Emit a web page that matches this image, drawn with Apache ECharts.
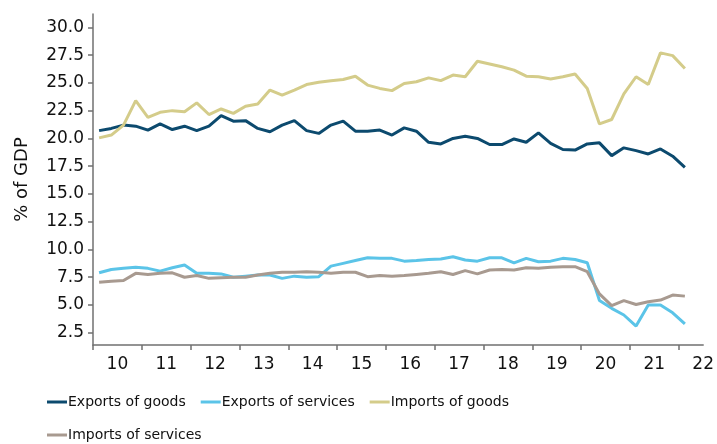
<!DOCTYPE html>
<html>
<head>
<meta charset="utf-8">
<script src="https://cdn.jsdelivr.net/npm/echarts@6/dist/echarts.min.js"></script>
<style>
  html, body { margin: 0; padding: 0; background: #fff; }
  #main { width: 717px; height: 444px; }
</style>
</head>
<body>
<div id="main"></div>
<script>
// quarterly, 2010Q1 .. 2022Q1
var startYear = 2010;
var years = [2010, 2011, 2012, 2013, 2014, 2015, 2016, 2017, 2018, 2019, 2020, 2021, 2022];
var yTicks = [2.5, 5, 7.5, 10, 12.5, 15, 17.5, 20, 22.5, 25, 27.5, 30];

var exportsGoods = [20.7, 20.9, 21.2, 21.1, 20.75, 21.3, 20.8, 21.1, 20.7, 21.1, 22.05, 21.55,
  21.6, 20.9, 20.6, 21.2, 21.6, 20.7, 20.45, 21.2, 21.55, 20.65, 20.65, 20.75,
  20.3, 20.95, 20.65, 19.65, 19.5, 20.0, 20.2, 20.0, 19.45, 19.45, 19.95, 19.65,
  20.5, 19.55, 19.0, 18.95, 19.5, 19.6, 18.45, 19.15, 18.9, 18.6, 19.05, 18.4, 17.4];
var exportsServices = [7.9, 8.2, 8.3, 8.4, 8.3, 8.05, 8.35, 8.6, 7.85, 7.85, 7.8, 7.5,
  7.6, 7.7, 7.7, 7.4, 7.6, 7.5, 7.55, 8.5, 8.75, 9.0, 9.25, 9.2,
  9.2, 8.95, 9.0, 9.1, 9.15, 9.35, 9.05, 8.95, 9.25, 9.25, 8.8, 9.2,
  8.9, 8.95, 9.2, 9.1, 8.8, 5.4, 4.7, 4.1, 3.1, 5.0, 5.0, 4.3, 3.3];
var importsGoods = [20.05, 20.3, 21.2, 23.4, 21.9, 22.35, 22.5, 22.4, 23.2, 22.15, 22.65, 22.25,
  22.9, 23.1, 24.35, 23.9, 24.35, 24.85, 25.05, 25.2, 25.3, 25.6, 24.8, 24.5,
  24.3, 24.95, 25.1, 25.45, 25.2, 25.7, 25.55, 26.95, 26.7, 26.45, 26.15, 25.6,
  25.55, 25.35, 25.55, 25.8, 24.5, 21.3, 21.7, 24.0, 25.55, 24.85, 27.7, 27.45, 26.3];
var importsServices = [7.05, 7.15, 7.2, 7.85, 7.75, 7.85, 7.9, 7.5, 7.65, 7.4, 7.45, 7.5,
  7.5, 7.7, 7.85, 7.95, 7.95, 8.0, 7.95, 7.85, 7.95, 7.95, 7.55, 7.65,
  7.6, 7.65, 7.75, 7.85, 8.0, 7.75, 8.1, 7.8, 8.15, 8.2, 8.15, 8.35,
  8.3, 8.4, 8.45, 8.45, 8.0, 6.0, 4.95, 5.4, 5.05, 5.3, 5.45, 5.9, 5.8];

var seriesNames = ['Exports of goods', 'Exports of services', 'Imports of goods', 'Imports of services'];
var seriesData = [exportsGoods, exportsServices, importsGoods, importsServices];
var colors = ['#0c4a6e', '#5bc4e8', '#d4cc8a', '#a89a90'];

function toPoints(values) {
  return values.map(function (v, i) { return [startYear + (i + 0.5) / 4, v]; });
}

var myChart = echarts.init(document.getElementById('main'));
var axisColor = '#707070';
var font = 'DejaVu Sans';

var option = {
  animation: false,
  color: colors,
  grid: { left: 93, right: 0, top: 14, bottom: 99 },
  legend: {
    left: 47,
    top: 393,
    width: 520,
    padding: 0,
    icon: 'rect',
    itemWidth: 20,
    itemHeight: 3,
    itemGap: 15,
    textStyle: { fontFamily: font, fontSize: 14, color: '#111', lineHeight: 18, padding: [0, 0, 0, -4] },
    data: seriesNames
  },
  xAxis: {
    type: 'value',
    min: startYear,
    max: 2022.5,
    splitLine: { show: false },
    axisLine: { show: true, lineStyle: { color: axisColor, width: 1.5 } },
    axisTick: { show: true, length: 5, lineStyle: { color: axisColor, width: 1.5 }, customValues: years },
    axisLabel: {
      customValues: years.map(function (y) { return y + 0.5; }),
      formatter: function (v) { return String(Math.floor(v)).slice(2); },
      fontFamily: font, fontSize: 17, color: '#111', margin: 11
    }
  },
  yAxis: {
    type: 'value',
    min: 1.4,
    max: 31.2,
    name: '% of GDP',
    nameLocation: 'middle',
    nameGap: 62,
    nameTextStyle: { fontFamily: font, fontSize: 18, color: '#111' },
    splitLine: { show: false },
    axisLine: { show: true, lineStyle: { color: axisColor, width: 1.5 } },
    axisTick: { show: true, length: 5, lineStyle: { color: axisColor, width: 1.5 }, customValues: yTicks },
    axisLabel: {
      customValues: yTicks,
      formatter: function (v) { return v.toFixed(1); },
      fontFamily: font, fontSize: 17, color: '#111', margin: 9
    }
  },
  series: seriesNames.map(function (name, i) {
    return {
      name: name,
      type: 'line',
      data: toPoints(seriesData[i]),
      showSymbol: false,
      symbol: 'none',
      lineStyle: { width: 3, color: colors[i] },
      itemStyle: { color: colors[i] }
    };
  })
};

myChart.setOption(option);
</script>
</body>
</html>
